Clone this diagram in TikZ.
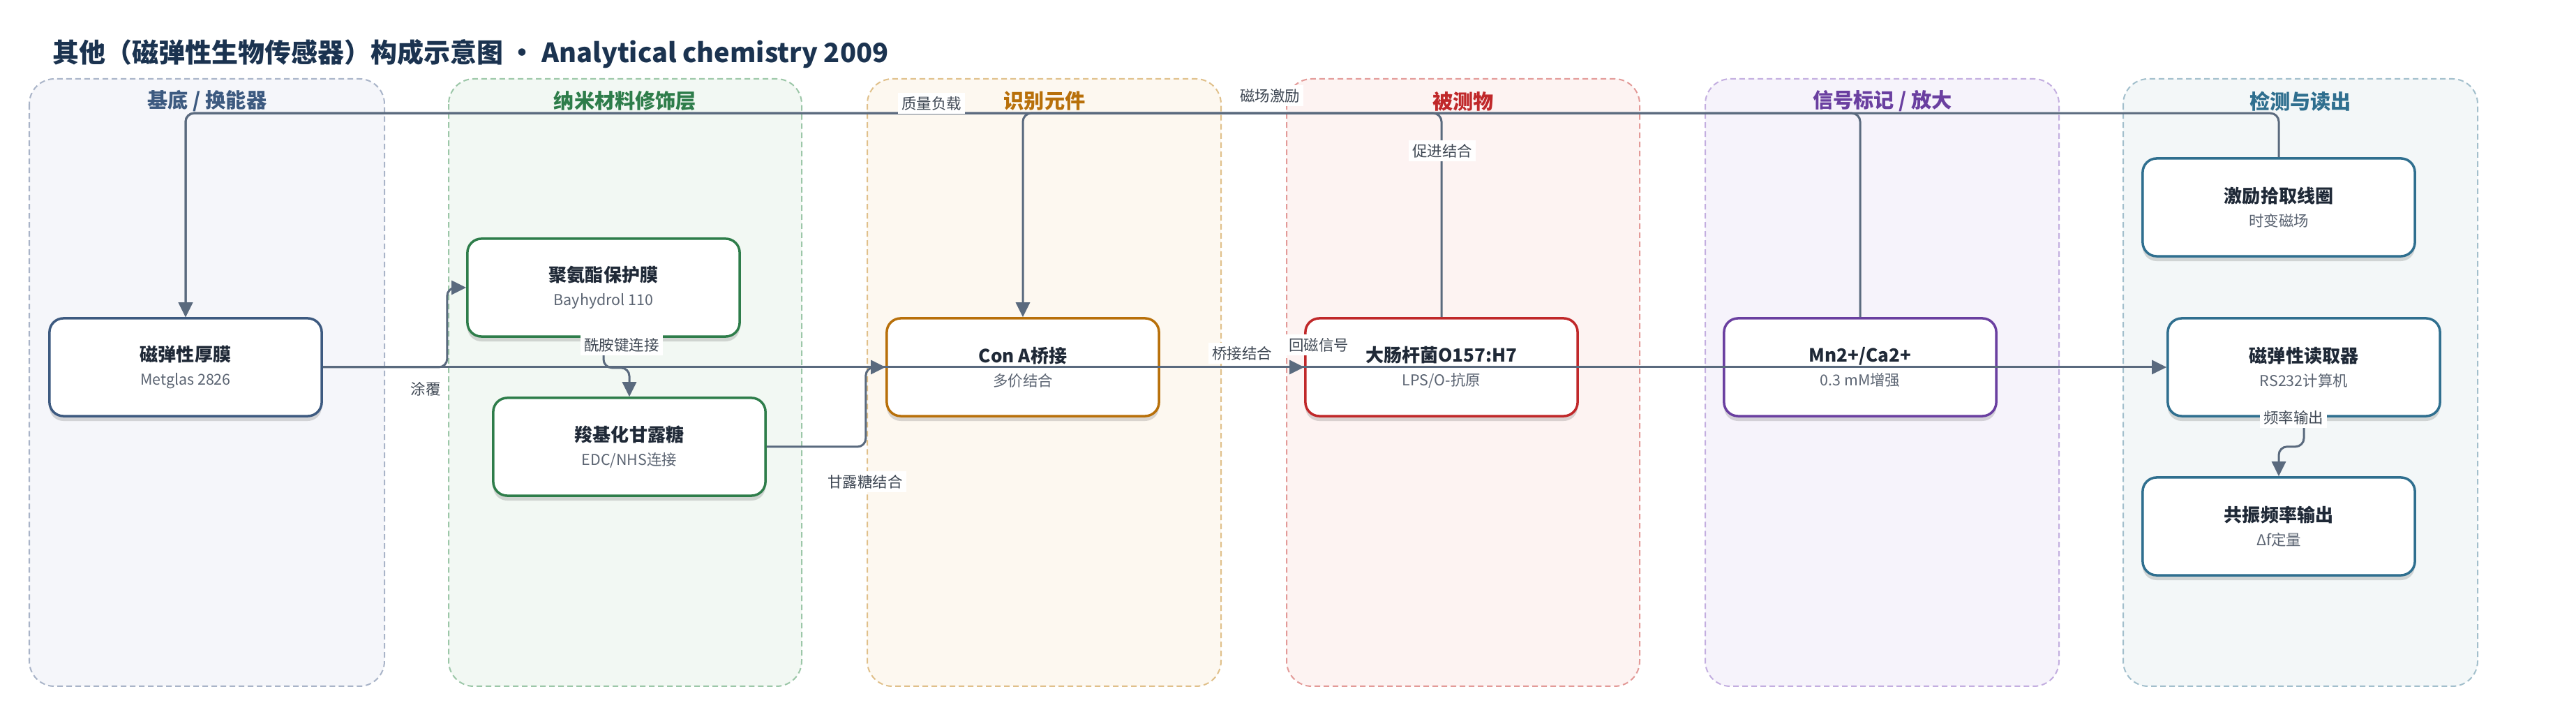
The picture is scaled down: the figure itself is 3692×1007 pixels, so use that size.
\documentclass[tikz,border=0pt]{standalone}
\usepackage{fontspec}
\setmainfont{Noto Sans CJK SC}
\usepackage{xcolor}
\usepackage{tikz}
\usetikzlibrary{arrows.meta,positioning,shadows}
\definecolor{inkdark}{HTML}{1B3350}
\definecolor{nodeink}{HTML}{1F2937}
\definecolor{subink}{HTML}{5B6472}
\definecolor{labelink}{HTML}{3E4753}
\definecolor{edgegray}{HTML}{5A6A7E}
\definecolor{baseline}{HTML}{3D5A80}
\definecolor{basefill}{HTML}{F5F6FA}
\definecolor{baseedge}{HTML}{A9B4C8}
\definecolor{nanoline}{HTML}{2E7D4A}
\definecolor{nanofill}{HTML}{F2F8F3}
\definecolor{nanoedge}{HTML}{9CC7A8}
\definecolor{recline}{HTML}{B8700A}
\definecolor{recfill}{HTML}{FDF8F0}
\definecolor{recedge}{HTML}{E0C08A}
\definecolor{analine}{HTML}{C0282A}
\definecolor{anafill}{HTML}{FDF3F2}
\definecolor{anaedge}{HTML}{E39A98}
\definecolor{tagline}{HTML}{6A3FA0}
\definecolor{tagfill}{HTML}{F6F3FB}
\definecolor{tagedge}{HTML}{C3AEE0}
\definecolor{readline}{HTML}{2F6F8F}
\definecolor{readfill}{HTML}{F3F7F8}
\definecolor{readedge}{HTML}{A2BFCC}
\newcommand{\boxtext}[2]{{\fontsize{7.4}{9.7}\selectfont\bfseries\color{nodeink}#1}\\#2}

\begin{document}
\begin{tikzpicture}[x=0.01cm, y=-0.01cm,
        lane/.style 2 args={fill=#1, draw=#2, line width=0.02cm, dash pattern=on 0.08cm off 0.05cm, rounded corners=0.36cm},
        lanetitle/.style={font=\fontsize{8.3}{10}\selectfont\bfseries, text=#1},
        box/.style={draw=#1, line width=0.035cm, fill=white, rounded corners=0.2cm, minimum width=3.9cm, minimum height=1.4cm, align=center, text=subink, font=\fontsize{6.1}{9.7}\selectfont, drop shadow={shadow xshift=0cm, shadow yshift=-0.07cm, opacity=0.14, fill=black}},
        link/.style={draw=edgegray, line width=0.03cm, rounded corners=0.12cm},
        arrowed/.style={-{Triangle[length=0.21cm, width=0.2cm]}},
        elbl/.style={fill=white, inner sep=1.5pt, text=labelink, font=\fontsize{6.1}{7}\selectfont}]
        \useasboundingbox [fill=white] (0,0) rectangle (3692,1007);
        \path [lane={basefill}{baseedge}] (42,113) rectangle (551,983);
        \path [lane={nanofill}{nanoedge}] (643,113) rectangle (1149,983);
        \path [lane={recfill}{recedge}] (1243,113) rectangle (1750,983);
        \path [lane={anafill}{anaedge}] (1844,113) rectangle (2350,983);
        \path [lane={tagfill}{tagedge}] (2444,113) rectangle (2951,983);
        \path [lane={readfill}{readedge}] (3043,113) rectangle (3551,983);
        \node (title) at (63,77) [anchor=west, font=\fontsize{10.8}{13}\selectfont\bfseries, text=inkdark] {其他（磁弹性生物传感器）构成示意图 • Analytical chemistry 2009};
        \node (t1) at (297,145) [lanetitle=baseline] {基底 / 换能器};
        \node (t2) at (896,145) [lanetitle=nanoline] {纳米材料修饰层};
        \node (t3) at (1497,145) [lanetitle=recline] {识别元件};
        \node (t4) at (2097,145) [lanetitle=analine] {被测物};
        \node (t5) at (2698,145) [lanetitle=tagline] {信号标记 / 放大};
        \node (t6) at (3297,145) [lanetitle=readline] {检测与读出};
        \node (film) at (266,526) [box=baseline] {\boxtext{磁弹性厚膜}{Metglas 2826}};
        \node (pu) at (865,412) [box=nanoline] {\boxtext{聚氨酯保护膜}{Bayhydrol 110}};
        \node (mannose) at (902,640) [box=nanoline] {\boxtext{羧基化甘露糖}{EDC/NHS连接}};
        \node (cona) at (1466,526) [box=recline] {\boxtext{Con A桥接}{多价结合}};
        \node (ecoli) at (2066,526) [box=analine] {\boxtext{大肠杆菌O157:H7}{LPS/O-抗原}};
        \node (ions) at (2666,526) [box=tagline] {\boxtext{Mn2+/Ca2+}{0.3 mM增强}};
        \node (coil) at (3266,297) [box=readline] {\boxtext{激励拾取线圈}{时变磁场}};
        \node (reader) at (3302,526) [box=readline] {\boxtext{磁弹性读取器}{RS232计算机}};
        \node (freq) at (3266,754) [box=readline] {\boxtext{共振频率输出}{Δf定量}};
        \path [link, arrowed] (film.east) -- ++(178,0) |- (pu.west);
        \path [link, arrowed] (pu.south) -- ++(0,43) -| (mannose.north);
        \path [link, arrowed] (mannose.east) -- ++(142,0) |- (cona.west);
        \path [link, arrowed] (cona.east) -- (ecoli.west);
        \path [link, arrowed] (film.east) -- (reader.west);
        \path [link, arrowed] (coil.north) -- ++(0,-63) -| (film.north);
        \path [link, arrowed] (ecoli.north) -- ++(0,-292) -| (film.north);
        \path [link, arrowed] (ions.north) -- ++(0,-292) -| (cona.north);
        \path [link, arrowed] (reader.south) -- ++(0,42) -| (freq.north);
        \node (l1) at (610,557) [elbl] {涂覆};
        \node (l2) at (891,494) [elbl] {酰胺键连接};
        \node (l3) at (1240,690) [elbl] {甘露糖结合};
        \node (l4) at (1780,506) [elbl] {桥接结合};
        \node (l5) at (1890,494) [elbl] {回磁信号};
        \node (l6) at (1820,137) [elbl] {磁场激励};
        \node (l7) at (1335,148) [elbl] {质量负载};
        \node (l8) at (2067,216) [elbl] {促进结合};
        \node (l9) at (3287,598) [elbl] {频率输出};
\end{tikzpicture}
\end{document}
